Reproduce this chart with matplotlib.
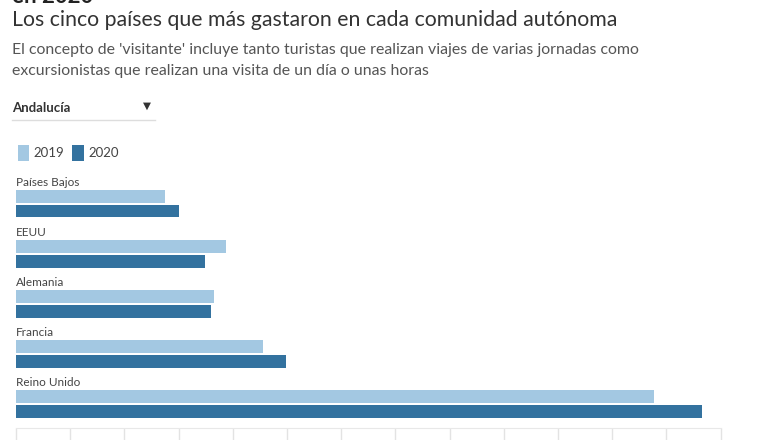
import matplotlib.pyplot as plt
from matplotlib.lines import Line2D

# data (gasto, unidades del eje)
paises = ['Países Bajos', 'EEUU', 'Alemania', 'Francia', 'Reino Unido']
v2019 = [274, 387, 366, 456, 1177]
v2020 = [300, 349, 359, 498, 1265]
years = ['2019', '2020']
ticks = list(range(0, 1400, 100))

c19 = '#a3c8e2'
c20 = '#33729f'
W, H = 780, 440

plt.rcParams['font.family'] = ['Lato', 'DejaVu Sans']

fig = plt.figure(figsize=(W / 100, H / 100), dpi=100)
fig.patch.set_facecolor('white')

def fx(px):
    return px / W

def fy(py):
    return 1 - py / H

# header texts
fig.text(fx(12), fy(3), 'en 2020', fontsize=16, fontweight='bold', color='#222222', va='baseline')
fig.text(fx(12), fy(20), 'Los cinco países que más gastaron en cada comunidad autónoma',
         fontsize=15.3, color='#333333', va='center')
fig.text(fx(12), fy(50), "El concepto de 'visitante' incluye tanto turistas que realizan viajes de varias jornadas como",
         fontsize=11.4, color='#555555', va='center')
fig.text(fx(12), fy(71), 'excursionistas que realizan una visita de un día o unas horas',
         fontsize=11.4, color='#555555', va='center')

# dropdown
fig.text(fx(12), fy(108), 'Andalucía', fontsize=9.5, fontweight='bold', color='#333333', va='center')
fig.text(fx(147), fy(106), '▼', fontsize=7.5, color='#333333', va='center', ha='center',
         family=['DejaVu Sans'])
fig.add_artist(Line2D([fx(12), fx(155)], [fy(120), fy(120)], color='#dddddd', lw=1))

# chart
ax = fig.add_axes([fx(16), fy(428), fx(720.7) - fx(16), (428 - 178) / H])
n = len(paises)
bh = 0.25
b1 = ax.barh([i + 0.37 for i in range(n)], v2019, height=bh, color=c19, label=years[0])
b2 = ax.barh([i + 0.665 for i in range(n)], v2020, height=bh, color=c20, label=years[1])
for i, p in enumerate(paises):
    ax.text(0, i + 0.08, p, fontsize=8.5, color='#444444', va='center', ha='left')

ax.set_xlim(0, ticks[-1])
ax.set_ylim(n, 0)
ax.set_xticks(ticks)
ax.set_xticklabels([])
ax.set_yticks([])
ax.tick_params(axis='x', direction='out', length=9, color='#e3e3e3', width=1)
for s in ['top', 'right', 'left']:
    ax.spines[s].set_visible(False)
ax.spines['bottom'].set_color('#e8e8e8')

fig.legend(handles=[b1, b2], loc='center left', bbox_to_anchor=(fx(6), fy(153)),
           ncol=2, frameon=False, fontsize=9.5, handlelength=0.85, handleheight=1.5,
           handletextpad=0.35, columnspacing=0.6, labelcolor='#444444')

fig.savefig('out.png', dpi=100)
